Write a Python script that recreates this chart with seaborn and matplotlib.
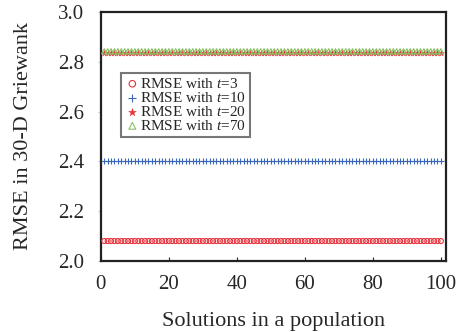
import numpy as np
import pandas as pd
import seaborn as sns
import matplotlib.pyplot as plt

# solutions in a population (1..100)
solutions = list(range(1, 101))

# RMSE values (flat across the population)
rmse_t3 = [2.08] * 100
rmse_t10 = [2.40] * 100
rmse_t20 = [2.835] * 100
rmse_t70 = [2.842] * 100

labels = ["RMSE with $t$=3", "RMSE with $t$=10", "RMSE with $t$=20", "RMSE with $t$=70"]
x_ticks = [0, 20, 40, 60, 80, 100]
y_ticks = [2.0, 2.2, 2.4, 2.6, 2.8, 3.0]

sns.set_style("ticks")
plt.rcParams['font.family'] = ['Liberation Serif', 'DejaVu Serif']
plt.rcParams['mathtext.fontset'] = 'custom'
plt.rcParams['mathtext.rm'] = 'Liberation Serif'
plt.rcParams['mathtext.it'] = 'Liberation Serif:italic'

fig = plt.figure(figsize=(4.67, 3.32), dpi=100)
ax = fig.add_axes([0.216, 0.214, 0.739, 0.75])

series = [
    (rmse_t3, 'o', '#e8323c', 'none', 3.6),
    (rmse_t10, '+', '#3a66b8', None, 4.5),
    (rmse_t20, '*', '#e8323c', '#e8323c', 4.5),
    (rmse_t70, '^', '#8cc065', 'none', 3.8),
]

for (vals, mk, col, fc, ms), lab in zip(series, labels):
    df = pd.DataFrame({'x': solutions, 'y': vals})
    kw = dict(marker=mk, s=ms ** 2, ax=ax, label=lab, zorder=3)
    if mk == '+':
        kw.update(color=col, linewidth=0.8)
    elif fc == 'none':
        kw.update(facecolors='none', edgecolors=col, linewidth=0.8)
    else:
        kw.update(color=col, edgecolor=col, linewidth=0.3)
    sns.scatterplot(data=df, x='x', y='y', **kw)

ax.set_xlim(0, 101.5)
ax.set_ylim(2.0, 3.0)
ax.set_xticks(x_ticks)
ax.set_yticks(y_ticks)
ax.set_yticklabels([f"{v:.1f}" for v in y_ticks])
ax.tick_params(axis='x', direction='in', length=3, labelsize=15, pad=10)
ax.tick_params(axis='y', direction='out', length=2, color='#cccccc', labelsize=15, pad=10)
for sp in ax.spines.values():
    sp.set_linewidth(1.6)
    sp.set_color('#222222')

ax.set_xlabel("Solutions in a population", fontsize=16, labelpad=13)
ax.set_ylabel("RMSE in 30-D Griewank", fontsize=16, labelpad=18)

leg = ax.legend(loc='upper left', bbox_to_anchor=(0.058, 0.755), fontsize=11,
                frameon=True, fancybox=False, handletextpad=0.0, handlelength=1.0,
                borderpad=0.25, labelspacing=0.0, borderaxespad=0, markerscale=1.3)
leg.get_frame().set_edgecolor('#555555')
leg.get_frame().set_linewidth(1.5)

fig.savefig("out.png", dpi=100)
